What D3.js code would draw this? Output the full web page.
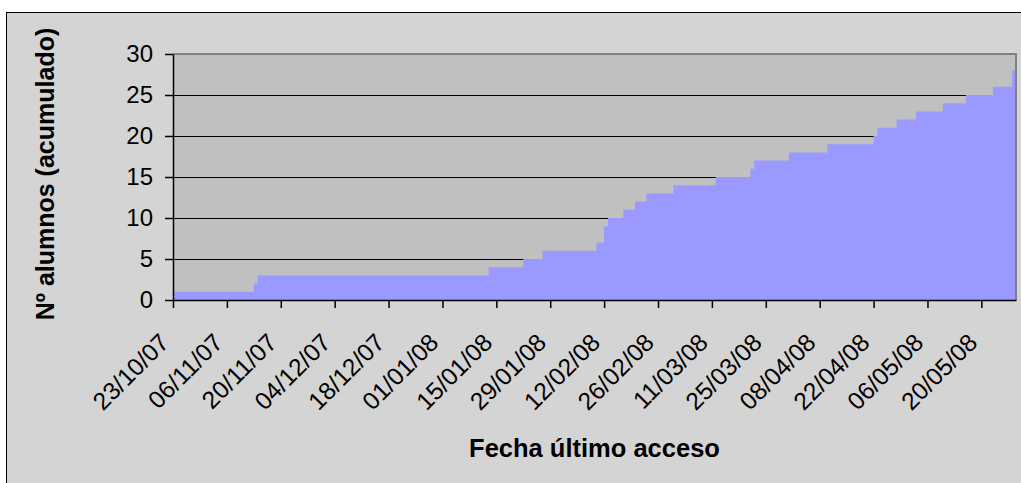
<!DOCTYPE html>
<html><head><meta charset="utf-8">
<script src="https://cdn.jsdelivr.net/npm/d3@7"></script>
<style>
body{margin:0;background:#fff;}
text{font-family:"Liberation Sans",Arial,sans-serif;}
</style>
</head><body>
<svg id="c" width="1021" height="483"></svg>
<script>
// ---- data ----
const stepDates = ["23/10/07","13/11/07","14/11/07","13/01/08","22/01/08","27/01/08","10/02/08","12/02/08","13/02/08","17/02/08","20/02/08","23/02/08","01/03/08","12/03/08","21/03/08","22/03/08","31/03/08","10/04/08","22/04/08","23/04/08","28/04/08","03/05/08","10/05/08","16/05/08","23/05/08","28/05/08","29/05/08"];
const cumulative = [1,2,3,4,5,6,7,9,10,11,12,13,14,15,16,17,18,19,20,21,22,23,24,25,26,28,28];
const yTicks = [0,5,10,15,20,25,30];
const xTickLabels = ["23/10/07","06/11/07","20/11/07","04/12/07","18/12/07","01/01/08","15/01/08","29/01/08","12/02/08","26/02/08","11/03/08","25/03/08","08/04/08","22/04/08","06/05/08","20/05/08"];
const xDomain = ["23/10/07","29/05/08"];
const yTitle = "Nº alumnos (acumulado)";
const xTitle = "Fecha último acceso";

// ---- layout ----
const parse = d3.utcParse("%d/%m/%y");
const L = 173, R = 1016, T = 54, B = 300;
const svg = d3.select("#c");

const x = d3.scaleUtc().domain(xDomain.map(parse)).range([L, R]);
const y = d3.scaleLinear().domain([0, 30]).range([B, T]);

const data = stepDates.map((d, i) => ({date: parse(d), v: cumulative[i]}));

// chart area
svg.append("rect").attr("x", 6.5).attr("y", 12.5).attr("width", 1040).attr("height", 500)
  .attr("fill", "#d4d4d4").attr("stroke", "#000").attr("stroke-width", 1);

// plot area
svg.append("rect").attr("x", L).attr("y", T).attr("width", R - L).attr("height", B - T)
  .attr("fill", "#c0c0c0");

// gridlines
svg.append("g").selectAll("line").data(yTicks.filter(v => v > 0 && v < 30)).join("line")
  .attr("x1", L).attr("x2", R)
  .attr("y1", d => Math.round(y(d)) + 0.5).attr("y2", d => Math.round(y(d)) + 0.5)
  .attr("stroke", "#000").attr("stroke-width", 1);

// area
const area = d3.area().curve(d3.curveStepAfter)
  .x(d => x(d.date)).y0(y(0)).y1(d => y(d.v));
svg.append("path").datum(data).attr("d", area).attr("fill", "#9999ff");

// plot border top/right
svg.append("line").attr("x1", L).attr("x2", R + 1).attr("y1", T).attr("y2", T)
  .attr("stroke", "#808080").attr("stroke-width", 2);
svg.append("line").attr("x1", R).attr("x2", R).attr("y1", T).attr("y2", B)
  .attr("stroke", "#808080").attr("stroke-width", 2);

// y axis
const gy = svg.append("g").attr("transform", `translate(${L},0)`)
  .call(d3.axisLeft(y).tickValues(yTicks).tickSizeInner(8).tickSizeOuter(0).tickPadding(12));
gy.select(".domain").attr("stroke", "#000").attr("stroke-width", 1.5);
gy.selectAll(".tick line").attr("stroke", "#000").attr("stroke-width", 1.5);
gy.selectAll(".tick text").attr("font-size", 24).attr("fill", "#000")
  .attr("font-family", "Liberation Sans, Arial, sans-serif");

// x axis
const xTickDates = xTickLabels.map(parse);
const gx = svg.append("g").attr("transform", `translate(0,${B})`)
  .call(d3.axisBottom(x).tickValues(xTickDates).tickFormat((d, i) => xTickLabels[i])
    .tickSizeInner(8).tickSizeOuter(0));
gx.select(".domain").attr("stroke", "#000").attr("stroke-width", 1.5);
gx.selectAll(".tick line").attr("stroke", "#000").attr("stroke-width", 1.5);
gx.selectAll(".tick text").attr("font-size", 24.5).attr("fill", "#000")
  .attr("font-family", "Liberation Sans, Arial, sans-serif")
  .attr("text-anchor", "end").attr("dy", null).attr("y", null)
  .attr("transform", "translate(-3,44) rotate(-45)");

// titles
svg.append("text").attr("transform", "translate(54,174) rotate(-90)")
  .attr("text-anchor", "middle").attr("font-size", 25).attr("font-weight", "bold")
  .text(yTitle);
svg.append("text").attr("x", (L + R) / 2).attr("y", 457)
  .attr("text-anchor", "middle").attr("font-size", 25.5).attr("font-weight", "bold")
  .text(xTitle);
</script>
</body></html>
